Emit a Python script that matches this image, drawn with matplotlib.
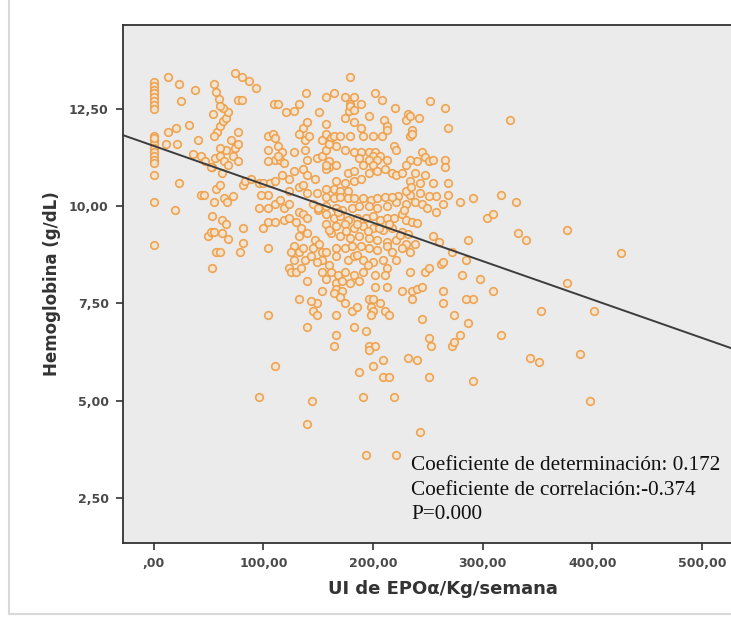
import numpy as np
import matplotlib.pyplot as plt
from matplotlib.ticker import FuncFormatter

# Dosis de EPO (UI/Kg/semana) y hemoglobina (g/dL)
epo_cero = [0] * 20
hb_cero = [13.2, 13.1, 13.0, 12.9, 12.8, 12.7, 12.6, 12.5,
           11.8, 11.7, 11.6, 11.5, 11.4, 11.3, 11.2, 11.1,
           10.8, 10.1, 9.0, 11.75]

epo = [13, 23, 38, 25, 55, 57, 59, 74, 80, 87, 93, 77, 80, 179, 139, 157, 164, 174, 183,
       179, 178, 189, 202, 208, 220, 232, 252, 266, 268, 110, 113, 132, 121, 128, 151, 157,
       325, 196, 210, 213, 242, 236,
       13, 20, 21, 11, 32, 36, 40, 43, 47, 53, 23, 19, 43, 46, 55, 52, 56, 62, 57,
       54, 58, 55, 60, 63, 66, 68, 63, 60,
       70, 74, 66, 60, 72, 77, 77, 60, 64, 68, 77, 60, 64, 72, 67, 81, 83, 89, 96,
       53, 62, 66, 49, 52, 55, 62, 68, 57, 60, 53, 81, 81, 79, 100, 104,
       100, 106, 104, 98, 96, 104, 111, 115, 119, 123, 104, 111, 119, 123, 132, 130, 136, 140,
       134, 140, 132, 128, 125, 132, 136, 128, 123, 125, 130, 134, 138, 143, 145, 147, 151,
       153, 157, 153, 149, 153, 140,
       104, 109, 111, 113, 111, 115, 104, 119, 128, 138, 138, 142, 140, 149, 153, 157, 153,
       157, 162, 164, 170, 166, 160, 174, 183, 189, 196, 202, 200, 206, 187, 196, 204, 213,
       191, 200, 160, 160, 157, 166, 177, 183, 128, 136, 140, 147, 123, 117, 111, 132, 136,
       123, 140, 149, 157, 164, 170, 177, 166, 174, 183, 189, 196, 204, 211, 217, 221,
       208, 219, 221, 234, 236, 245, 247, 251, 255, 266, 266, 240, 234, 230, 226, 238, 234,
       243, 247, 255, 268, 268, 257, 251, 243, 234, 230, 223, 221, 230, 238, 245, 249, 257,
       264, 279, 291, 317, 330, 304, 309, 332, 340, 377, 426, 377, 402, 353, 317, 343, 351,
       389, 398,
       157, 164, 170, 177, 183, 191, 198, 204, 211, 217, 157, 166, 172, 181, 187, 196, 204,
       213, 157, 164, 170, 177, 185, 194, 200, 206, 213, 219, 226, 230, 236, 157, 166, 174,
       183, 191, 200, 209, 217, 226, 232, 240, 162, 170, 179, 187, 196, 204, 213, 221, 230,
       238, 255, 260, 287,
       166, 174, 181, 189, 196, 204, 213, 217, 226, 234, 166, 177, 183, 191, 200, 209, 213,
       221, 234, 247, 251, 262, 264, 285, 272, 281, 298, 162, 168, 174, 183, 191, 202, 211,
       157, 166, 172, 179, 187, 166, 172, 164, 170, 202, 213, 226, 236, 240, 245, 236, 264,
       291, 309, 264, 285,
       153, 149, 145, 149, 143, 132, 140, 166, 174, 181, 185, 196, 198, 200, 200, 198, 206,
       211, 215, 183, 194, 166, 164, 196, 202, 196, 200, 209, 209, 215, 187, 232, 240, 251,
       253, 251, 272, 274, 279, 274, 287, 291, 245, 104, 111, 96, 144, 140, 191, 219, 243,
       194, 221,
       136, 132, 140, 117, 104, 113, 157, 179, 183, 174, 183, 189, 179, 191, 200, 213, 230, 234,
       145, 150, 160, 168, 175, 185, 195, 205, 215, 225, 228, 235, 185, 195, 150, 160]

hb = [13.33, 13.13, 13.0, 12.7, 13.13, 12.93, 12.75, 13.43, 13.33, 13.23, 13.03, 12.72, 12.72,
      13.33, 12.9, 12.82, 12.9, 12.82, 12.82, 12.62, 12.45, 12.62, 12.9, 12.72, 12.52, 12.37,
      12.7, 12.52, 12.01, 12.62, 12.62, 12.62, 12.42, 12.45, 12.42, 12.12,
      12.22, 12.32, 12.22, 12.05, 12.27, 11.95,
      11.9, 12.0, 11.6, 11.6, 12.1, 11.35, 11.7, 11.3, 11.15, 11.0, 10.6, 9.9, 10.3, 10.3,
      10.1, 11.0, 11.25, 10.85, 10.45,
      12.37, 11.9, 11.8, 12.05, 12.2, 12.27, 12.42, 12.52, 12.57,
      11.7, 11.5, 11.45, 11.5, 11.3, 11.6, 11.9, 11.3, 11.15, 11.05, 11.15, 10.55, 10.2, 10.25,
      10.1, 10.55, 10.65, 10.7, 10.6,
      9.75, 9.65, 9.55, 9.23, 9.33, 9.33, 9.3, 9.15, 8.82, 8.82, 8.42, 9.45, 9.05, 8.82, 9.43,
      8.92,
      10.6, 10.6, 10.3, 10.3, 9.95, 9.95, 10.05, 10.15, 9.95, 10.05, 9.6, 9.6, 9.65, 9.7, 9.85,
      9.6, 9.8, 9.7, 9.45, 9.3, 9.23, 8.98, 8.82, 8.82, 8.92, 8.62, 8.42, 8.32, 8.32, 8.42,
      8.62, 8.72, 8.92, 9.13, 9.03, 8.82, 8.82, 8.62, 8.57, 8.32, 8.07,
      11.8, 11.85, 11.76, 11.55, 11.2, 11.2, 11.15, 11.1, 11.4, 11.7, 11.45, 11.8, 11.2, 11.25,
      11.3, 11.45, 11.7, 11.86, 11.76, 11.8, 11.8, 11.56, 11.6, 11.45, 11.4, 11.4, 11.4, 11.4,
      11.3, 11.3, 11.25, 11.2, 11.2, 11.2, 11.05, 11.05, 11.15, 11.0, 10.95, 11.05, 10.85,
      10.9, 10.9, 10.95, 10.8, 10.7, 10.7, 10.8, 10.65, 10.5, 10.55, 10.4, 10.35, 10.35, 10.45,
      10.45, 10.4, 10.4, 10.65, 10.6, 10.65, 10.7, 10.85, 10.9, 10.95, 10.85, 10.8,
      11.8, 11.56, 11.45, 11.8, 11.86, 11.4, 11.26, 11.15, 11.2, 11.2, 11.0, 11.15, 11.2, 11.05,
      10.85, 10.85, 10.65, 10.6, 10.8, 10.6, 10.6, 10.3, 10.25, 10.25, 10.35, 10.3, 10.4, 10.25,
      10.1, 10.05, 10.1, 10.05, 9.95, 9.85, 10.05, 10.1, 10.2, 10.3, 10.1, 9.7, 9.8, 9.3, 9.13,
      9.4, 8.8, 8.02, 7.3, 7.3, 6.7, 6.1, 6.0, 6.2, 5.0,
      10.24, 10.2, 10.24, 10.2, 10.2, 10.2, 10.15, 10.2, 10.24, 10.24, 10.0, 9.95, 9.9, 9.95,
      10.0, 10.0, 9.95, 10.0, 9.8, 9.7, 9.75, 9.65, 9.7, 9.7, 9.74, 9.65, 9.7, 9.7, 9.8, 9.65,
      9.6, 9.55, 9.5, 9.55, 9.45, 9.5, 9.43, 9.38, 9.43, 9.33, 9.28, 9.58, 9.3, 9.23, 9.18,
      9.23, 9.18, 9.13, 9.08, 9.13, 9.03, 9.03, 9.23, 9.08, 9.13,
      8.92, 8.92, 8.98, 8.98, 8.92, 8.87, 8.98, 8.82, 8.92, 8.82, 8.72, 8.62, 8.72, 8.62, 8.57,
      8.62, 8.42, 8.62, 8.32, 8.32, 8.42, 8.52, 8.57, 8.62, 8.82, 8.22, 8.12, 8.32, 8.22, 8.32,
      8.22, 8.32, 8.22, 8.22, 8.12, 8.02, 8.07, 8.02, 8.07, 7.87, 7.81, 7.76, 7.66, 7.91, 7.91,
      7.81, 7.81, 7.86, 7.91, 7.61, 7.81, 7.61, 7.81, 7.5, 7.61,
      7.81, 7.51, 7.31, 7.21, 7.56, 7.61, 6.9, 7.21, 7.51, 7.31, 7.41, 7.61, 7.41, 7.61, 7.31,
      7.21, 7.51, 7.31, 7.21, 6.9, 6.8, 6.7, 6.4, 6.4, 6.4, 6.3, 5.9, 6.05, 5.6, 5.6, 5.74, 6.1,
      6.05, 6.6, 6.4, 5.6, 6.4, 6.5, 6.7, 7.2, 7.0, 5.5, 7.1, 7.2, 5.9, 5.1, 5.0, 4.4, 5.1, 5.1,
      4.2, 3.6, 3.6,
      12.0, 11.86, 12.17, 11.4, 11.45, 11.3, 11.05, 12.57, 12.47, 12.27, 12.17, 12.01, 11.8,
      11.8, 11.8, 11.96, 12.22, 12.32,
      10.05, 9.9, 9.4, 9.85, 9.35, 9.55, 9.35, 9.45, 9.55, 9.25, 9.9, 10.5, 8.75, 8.5, 9.95, 8.5]

# Recta de regresion
intercepto = 11.55
pendiente = -0.00987

x_ticks = [0, 100, 200, 300, 400, 500]
y_ticks = [2.5, 5.0, 7.5, 10.0, 12.5]

fig = plt.figure(figsize=(7.31, 6.17), dpi=100)
fig.patch.set_facecolor('white')

# borde gris claro del recuadro exterior
fig.add_artist(plt.Line2D([9 / 731, 9 / 731], [3 / 617, 1], color='#d9d9d9', lw=1.5))
fig.add_artist(plt.Line2D([9 / 731, 1], [3 / 617, 3 / 617], color='#d9d9d9', lw=1.5))

ax = fig.add_axes([122.6 / 731, 74 / 617, 640 / 731, 518 / 617])
ax.set_facecolor('#ebebeb')

x_all = epo_cero + epo
y_all = hb_cero + hb
ax.scatter(x_all, y_all, s=30, facecolors='#f3e4d0', edgecolors='#ee9d45',
           linewidths=1.2, alpha=0.9, zorder=3)

xl = np.array([-30, 560])
ax.plot(xl, intercepto + pendiente * xl, color='#3c3c3c', lw=1.4, zorder=4)

ax.set_xlim(-28.5, -28.5 + 640 / 1.096)
ax.set_ylim(1.34, 14.66)
ax.set_xticks(x_ticks)
ax.set_yticks(y_ticks)

fmt = FuncFormatter(lambda v, p: ('%.2f' % v).replace('.', ',').lstrip('0') if v == 0
                    else ('%.2f' % v).replace('.', ','))
ax.xaxis.set_major_formatter(fmt)
ax.yaxis.set_major_formatter(fmt)

for s in ['top', 'bottom', 'left', 'right']:
    ax.spines[s].set_color('#333333')
    ax.spines[s].set_linewidth(1.3)

ax.tick_params(axis='both', direction='out', length=5, width=1.2, color='#333333',
               labelsize=9, labelcolor='#4a4a4a', pad=5)
for lab in ax.get_xticklabels() + ax.get_yticklabels():
    lab.set_fontweight('bold')

ax.set_xlabel('UI de EPO\u03b1/Kg/semana', fontsize=13, fontweight='bold',
              color='#333333', labelpad=7)
ax.set_ylabel('Hemoglobina (g/dL)', fontsize=12, fontweight='bold',
              color='#333333', labelpad=6)

lineas = ['Coeficiente de determinaci\u00f3n: 0.172',
          'Coeficiente de correlaci\u00f3n:-0.374',
          'P=0.000']
for i, t in enumerate(lineas):
    fig.text(411 / 731, 1 - (470 + 24.7 * i) / 617, t, family='Liberation Serif',
             fontsize=15.3, color='#111111', va='baseline', ha='left')

fig.savefig('out.png', dpi=100)
